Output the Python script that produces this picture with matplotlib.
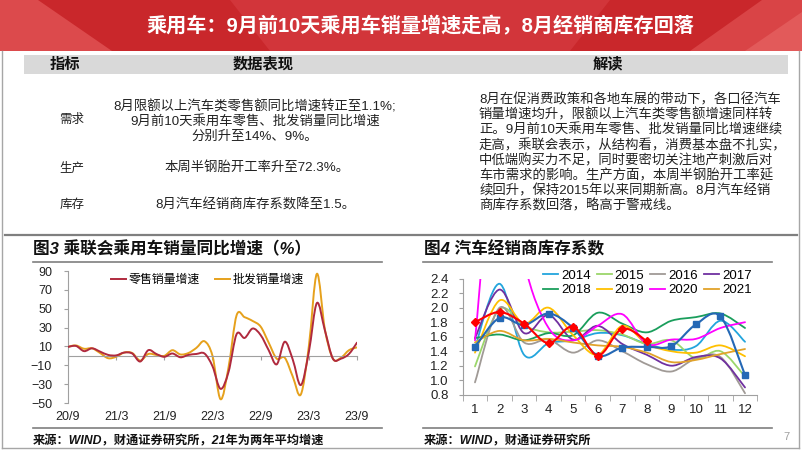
import matplotlib
matplotlib.use('Agg')
import matplotlib.pyplot as plt
import numpy as np
from matplotlib.path import Path
from matplotlib.patches import PathPatch, Rectangle, Polygon
from matplotlib.lines import Line2D

plt.rcParams['font.family'] = ['Liberation Sans', 'Noto Sans CJK SC']

# ---- data: 图3 乘联会乘用车销量同比增速 (monthly, 20/9 .. 23/9)
month_ticks = [0, 6, 12, 18, 24, 30, 36]
month_labels = ['20/9', '21/3', '21/9', '22/3', '22/9', '23/3', '23/9']
retail = [9.5, 10.5, 5, 8, 4.5, 1, 0.5, 3.5, 2.5, -6, 6, 2, -1, 2.5, -1.5, 1, 2, 2.5,
          -11, -35, -17, 23, 19, 29, 22, 6, -9, 15, -4, -31, 4, 56, 27, -3, -3, 2, 14]
wholesale = [9.7, 11, 7.5, 8, 3, -2.5, -1, 3.5, 3, -5, 2, 1, 0, 6, 1.5, 3, 8.5, 15.5,
             0, -46, -12, 43, 41, 37, 31, 14, -3, -2, -22, -41, 10, 87, 28, -3, -2, 6, 9]

# ---- data: 图4 汽车经销商库存系数 (by month)
months = list(range(1, 13))
y2014 = [1.45, 2.33, 1.35, 1.51, 1.55, 1.65, 1.62, 1.50, 1.42, 1.47, 1.82, 1.53]
y2015 = [1.19, 1.98, 1.75, 1.66, 1.67, 1.69, 1.63, 1.50, 1.55, 1.30, 1.40, 1.05]
y2016 = [0.97, 2.00, 1.52, 1.56, 1.38, 1.55, 1.40, 1.22, 1.12, 1.30, 1.32, 0.82]
y2017 = [1.58, 2.25, 1.65, 1.90, 1.56, 1.75, 1.50, 1.35, 1.20, 1.32, 1.30, 0.90]
y2018 = [1.58, 1.63, 1.55, 1.65, 1.62, 1.93, 1.78, 1.66, 1.82, 1.87, 1.92, 1.72]
y2019 = [1.38, 2.10, 1.78, 2.00, 1.62, 1.35, 1.75, 1.50, 1.40, 1.38, 1.48, 1.33]
y2020 = [1.55, 4.68, 2.64, 1.72, 1.55, 1.75, 1.91, 1.50, 1.56, 1.57, 1.72, 1.80]
y2021 = [1.52, 1.68, 1.55, 1.57, 1.52, 1.48, 1.46, 1.38, 1.25, 1.28, 1.36, 1.43]
y2022 = [1.46, 1.86, 1.76, 1.92, 1.72, 1.34, 1.45, 1.46, 1.47, 1.77, 1.88, 1.07]
y2023 = [1.80, 1.94, 1.78, 1.51, 1.74, 1.34, 1.71, 1.54]
years = ['2014', '2015', '2016', '2017', '2018', '2019', '2020', '2021']
year_colors = ['#22a5dd', '#9bd66a', '#a09a96', '#7030a0', '#1a9e5c', '#ffc000', '#ff00ff', '#e2a32a']

title = '乘用车：9月前10天乘用车销量增速走高，8月经销商库存回落'
demand_lines = ['8月限额以上汽车类零售额同比增速转正至1.1%;',
                '9月前10天乘用车零售、批发销量同比增速',
                '分别升至14%、9%。']
prod_line = '本周半钢胎开工率升至72.3%。'
stock_line = '8月汽车经销商库存系数降至1.5。'
read_lines = ['8月在促消费政策和各地车展的带动下，各口径汽车',
              '销量增速均升，限额以上汽车类零售额增速同样转',
              '正。9月前10天乘用车零售、批发销量同比增速继续',
              '走高，乘联会表示，从结构看，消费基本盘不扎实，',
              '中低端购买力不足，同时要密切关注地产刺激后对',
              '车市需求的影响。生产方面，本周半钢胎开工率延',
              '续回升，保持2015年以来同期新高。8月汽车经销',
              '商库存系数回落，略高于警戒线。']


# excel-like smoothed line: catmull-rom turned into cubic bezier segments
def smooth_path(x, y):
    pts = np.column_stack([x, y]).astype(float)
    n = len(pts)
    verts = [pts[0]]
    codes = [Path.MOVETO]
    for i in range(n - 1):
        p0 = pts[max(i - 1, 0)]
        p1 = pts[i]
        p2 = pts[i + 1]
        p3 = pts[min(i + 2, n - 1)]
        verts += [p1 + (p2 - p0) / 6, p2 - (p3 - p1) / 6, p2]
        codes += [Path.CURVE4] * 3
    return Path(verts, codes)


def smooth_line(ax, x, y, color, lw=1.3, z=2):
    ax.add_patch(PathPatch(smooth_path(x, y), fill=False, edgecolor=color, lw=lw,
                           zorder=z, capstyle='round', joinstyle='round'))


W, H = 802, 451
fig = plt.figure(figsize=(W / 100, H / 100), dpi=100)

bg = fig.add_axes([0, 0, 1, 1])
bg.set_xlim(0, W)
bg.set_ylim(H, 0)
bg.axis('off')

# banner
bg.add_patch(Rectangle((0, 0), W, 51, color='#c9272b', lw=0))
bg.add_patch(Polygon([(0, 0), (38, 0), (112, 51), (0, 51)], color='#dc4a4c', lw=0))
bg.add_patch(Polygon([(230, 0), (610, 0), (570, 51), (270, 51)], color='#d2353a', lw=0))
bg.add_patch(Polygon([(690, 51), (762, 0), (802, 0), (802, 51)], color='#d94446', lw=0))
bg.add_patch(Polygon([(745, 51), (802, 12), (802, 51)], color='#e25a5a', lw=0))
bg.text(420, 26, title, color='white', fontsize=14.5, fontweight='bold',
        ha='center', va='center')

# frame
bg.plot([2, 2], [51, 448], color='#a6a6a6', lw=1)
bg.plot([799, 799], [51, 448], color='#a6a6a6', lw=1)
bg.plot([2, 799], [448, 448], color='#a6a6a6', lw=1)

# table
bg.add_patch(Rectangle((24, 55), 764, 19, color='#d9d9d9', lw=0))
for x, s in [(65, '指标'), (263, '数据表现'), (608, '解读')]:
    bg.text(x, 64.5, s, fontsize=11, fontweight='bold', ha='center', va='center', color='#111111')
for y, s in [(120, '需求'), (168, '生产'), (205, '库存')]:
    bg.text(72, y, s, fontsize=9, ha='center', va='center', color='#222222')
for i, s in enumerate(demand_lines):
    bg.text(255, 107 + 15 * i, s, fontsize=9.6, ha='center', va='center', color='#222222')
bg.text(257, 168, prod_line, fontsize=9.6, ha='center', va='center', color='#222222')
bg.text(255, 205, stock_line, fontsize=9.6, ha='center', va='center', color='#222222')
for i, s in enumerate(read_lines):
    bg.text(479, 100 + 15.1 * i, s, fontsize=9.6, ha='left', va='center', color='#222222')

# separators and chart titles
bg.plot([5, 797], [235, 235], color='#7f7f7f', lw=1.6)
bg.plot([33, 382], [261.5, 261.5], color='#7f7f7f', lw=1.2)
bg.plot([423, 772], [261.5, 261.5], color='#7f7f7f', lw=1.2)
bg.plot([33, 382], [428, 428], color='#7f7f7f', lw=1.2)
bg.plot([423, 772], [428, 428], color='#7f7f7f', lw=1.2)
bg.text(33, 249, '图3 乘联会乘用车销量同比增速（%）', fontsize=12, fontweight='bold',
        style='italic', ha='left', va='center', color='#111111')
bg.text(424, 249, '图4 汽车经销商库存系数', fontsize=12, fontweight='bold',
        style='italic', ha='left', va='center', color='#111111')
bg.text(33, 441, '来源：WIND，财通证券研究所，21年为两年平均增速', fontsize=8.8,
        fontweight='bold', style='italic', ha='left', va='center', color='#111111')
bg.text(424, 441, '来源：WIND，财通证券研究所', fontsize=8.8,
        fontweight='bold', style='italic', ha='left', va='center', color='#111111')
bg.text(786, 437, '7', fontsize=8, ha='center', va='center', color='#a0a0a0')


def px_axes(left, top, right, bottom):
    a = fig.add_axes([left / W, 1 - bottom / H, (right - left) / W, (bottom - top) / H])
    a.set_facecolor('none')
    return a


axis_gray = '#a0a0a0'

# ---- left chart
ax1 = px_axes(68, 271, 357, 403)
ax1.set_xlim(0, 36)
ax1.set_ylim(-50, 90)
idx = np.arange(len(retail))
smooth_line(ax1, idx, retail, '#b02a3e', lw=1.4, z=3)
smooth_line(ax1, idx, wholesale, '#e6a11c', lw=1.4, z=2)
for s in ['top', 'right']:
    ax1.spines[s].set_visible(False)
ax1.spines['left'].set_color(axis_gray)
ax1.spines['bottom'].set_color(axis_gray)
ax1.spines['bottom'].set_position(('data', 0))
ax1.set_xticks(month_ticks)
ax1.tick_params(axis='x', length=3, color=axis_gray, labelbottom=False)
ax1.set_yticks(range(-50, 91, 20))
ax1.tick_params(axis='y', length=3, color=axis_gray, pad=8.5, labelsize=9, labelcolor='#222222')
sec = ax1.secondary_xaxis(0)
sec.set_xticks(month_ticks, labels=month_labels)
sec.spines['bottom'].set_visible(False)
sec.tick_params(length=0, pad=6, labelsize=9, labelcolor='#222222')
h1 = [Line2D([], [], color='#b02a3e', lw=1.4), Line2D([], [], color='#e6a11c', lw=1.4)]
ax1.legend(h1, ['零售销量增速', '批发销量增速'], loc='center left', bbox_to_anchor=(111, 280),
           bbox_transform=bg.transData, ncol=2, frameon=False, fontsize=8.6,
           handlelength=1.25, handletextpad=0.2, columnspacing=1.3, borderpad=0, borderaxespad=0)

# ---- right chart
ax2 = px_axes(462.7, 278.7, 757.3, 394.7)
ax2.set_xlim(0.5, 12.5)
ax2.set_ylim(0.8, 2.4)
series = [y2014, y2015, y2016, y2017, y2018, y2019, y2020, y2021]
for vals, c in zip(series, year_colors):
    smooth_line(ax2, months, vals, c, lw=1.3)
smooth_line(ax2, months, y2022, '#2468b5', lw=1.5, z=4)
ax2.plot(months, y2022, ls='none', marker='s', ms=4.5, color='#2468b5', zorder=4)
smooth_line(ax2, months[:len(y2023)], y2023, '#ff0000', lw=1.5, z=5)
ax2.plot(months[:len(y2023)], y2023, ls='none', marker='D', ms=4, color='#ff0000', zorder=5)
for s in ['top', 'right']:
    ax2.spines[s].set_visible(False)
ax2.spines['left'].set_color(axis_gray)
ax2.spines['bottom'].set_color(axis_gray)
ax2.set_xticks(months)
ax2.set_xticks(np.arange(0.5, 13, 1), minor=True)
ax2.tick_params(axis='x', which='major', length=0, pad=7, labelsize=9.5, labelcolor='#222222')
ax2.tick_params(axis='x', which='minor', length=4, color=axis_gray)
ax2.set_yticks(np.arange(0.8, 2.41, 0.2))
ax2.set_yticklabels(['%.1f' % v for v in np.arange(0.8, 2.41, 0.2)])
ax2.tick_params(axis='y', length=3, color=axis_gray, pad=7, labelsize=9.5, labelcolor='#222222')
order = [0, 4, 1, 5, 2, 6, 3, 7]
h2 = [Line2D([], [], color=year_colors[i], lw=1.3) for i in order]
ax2.legend(h2, [years[i] for i in order], loc='center left', bbox_to_anchor=(543, 283),
           bbox_transform=bg.transData, ncol=4, frameon=False, fontsize=9.5,
           handlelength=1.14, handletextpad=0.23, columnspacing=0.45, labelspacing=0.15,
           borderpad=0, borderaxespad=0)

fig.savefig('out.png', dpi=100)
